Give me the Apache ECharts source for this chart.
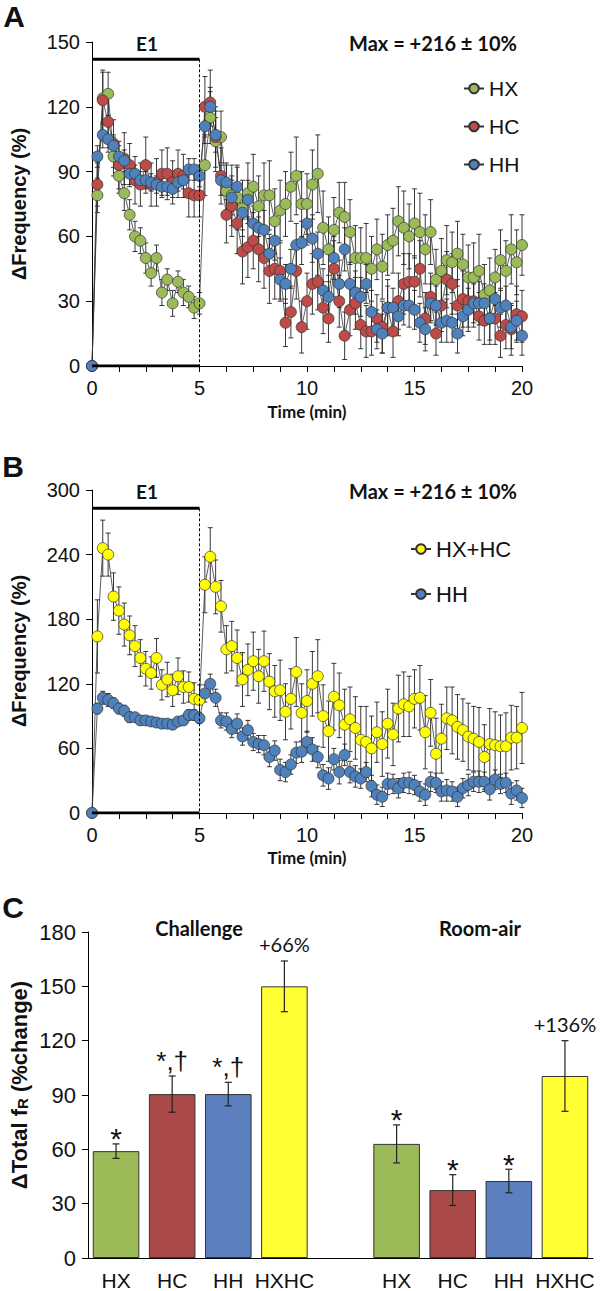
<!DOCTYPE html>
<html><head><meta charset="utf-8">
<script src="https://cdn.jsdelivr.net/npm/echarts@6/dist/echarts.min.js"></script>
<style>html,body{margin:0;padding:0;background:#fff}#c{width:600px;height:1291px}</style>
</head><body><div id="c"></div>
<script>
// ---------- DATA ----------
const times = [0,0.25,0.5,0.75,1,1.25,1.5,1.75,2,2.25,2.5,2.75,3,3.25,3.5,3.75,4,4.25,4.5,4.75,5,5.25,5.5,5.75,6,6.25,6.5,6.75,7,7.25,7.5,7.75,8,8.25,8.5,8.75,9,9.25,9.5,9.75,10,10.25,10.5,10.75,11,11.25,11.5,11.75,12,12.25,12.5,12.75,13,13.25,13.5,13.75,14,14.25,14.5,14.75,15,15.25,15.5,15.75,16,16.25,16.5,16.75,17,17.25,17.5,17.75,18,18.25,18.5,18.75,19,19.25,19.5,19.75,20];

const hx = [0, 79,124,126,97, 88,80,70,60, 58,50,43,50, 34,40,29,39, 34,32,27,29, 93,115,104,106, 81,79,78,73, 80,83,74,79, 79,67,72,75, 83,88,75,75, 84,89,64,54, 63,71,69,62, 50,50,50,45, 54,46,56,58, 67,64,60,66, 62,54,62,40, 44,49,48,52, 47,41,41,44, 33,35,41,49, 44,54,48,56];
const hxErr = [0, 8,12,10,9, 8,8,7,7, 6,7,6,6, 6,5,6,5, 6,5,5,5, 14,12,14,12, 13,14,15,13, 14,15,14,15, 16,15,14,15, 16,18,15,14, 16,18,17,15, 15,14,16,15, 15,14,16,15, 14,15,14,15, 16,17,15,16, 18,16,15,14, 15,16,14,15, 14,15,16,17, 14,15,13,14, 14,16,15,14];

const hc = [0, 84,123,113,103, 93,96,93,86, 84,93,84,85, 89,89,85,89, 88,80,79,79, 120,122,106,88, 70,74,66,53, 55,58,54,50, 44,45,44,20, 25,44,18,30, 38,39,27,22, 45,30,14,26, 29,19,16,16, 22,18,27,16, 30,38,39,39, 45,22,32,15, 28,40,38,28, 31,30,30,23, 21,22,22,14, 19,17,24,23];
const hcErr = [0, 10,14,12,11, 11,12,10,11, 10,13,10,11, 11,12,10,11, 10,11,10,10, 14,15,14,13, 13,14,14,15, 14,13,15,14, 15,14,13,11, 12,13,12,13, 14,13,12,11, 13,12,11,12, 12,11,12,11, 11,12,13,12, 13,14,13,12, 13,12,11,10, 12,13,14,12, 13,12,12,11, 11,12,12,10, 11,12,13,12];

const hh = [0, 97,107,105,102, 97,95,89,89, 86,86,85,84, 83,83,82,85, 86,91,91,88, 111,120,107,86, 85,78,83,71, 77,66,64,63, 52,58,40,38, 45,56,57,66, 59,52,35,32, 50,38,54,38, 34,32,38,25, 17,15,27,27, 23,28,28,26, 20,17,29,28, 20,21,20,15, 23,26,29,29, 29,22,31,27, 28,18,21,14];
const hhErr = [0, 5,6,6,5, 5,5,5,4, 4,4,4,4, 4,4,4,4, 4,5,5,5, 8,9,8,7, 8,8,9,8, 9,8,8,9, 9,9,10,9, 9,10,10,10, 11,10,10,10, 10,11,10,10, 10,9,9,10, 9,9,10,9, 9,9,10,9, 9,10,9,9, 9,10,9,9, 9,10,9,10, 9,10,9,9, 9,10,9,9];

const hxhc = [0, 164,246,240,201, 188,175,165,155, 144,134,130,144, 119,124,114,127, 117,117,106,105, 212,238,210,192, 152,155,144,124, 133,141,127,141, 122,113,114,94, 106,131,93,104, 120,127,90,76, 108,100,82,87, 79,68,66,60, 75,64,83,73, 97,101,99,106, 107,75,93,55, 69,88,86,80, 77,71,69,66, 52,64,63,62, 62,70,70,79];
const hxhcErr = [0, 34,26,20,22, 22,20,18,19, 17,16,15,18, 14,16,15,17, 15,14,15,14, 26,27,25,24, 22,23,26,25, 24,27,25,28, 26,24,28,26, 28,32,27,29, 30,34,29,28, 31,30,33,30, 29,31,33,30, 28,30,32,29, 31,30,28,27, 30,34,31,33, 32,29,31,30, 29,31,30,32, 30,33,31,29, 31,30,29,33];

const e1Start = 0, e1End = 5, e1LevelA = 142, e1LevelB = 283;

const barCategories = ['HX','HC','HH','HXHC'];
const challengeVals = [59, 90.5, 90.5, 150];
const challengeErr = [4, 10, 6.5, 14];
const challengeMarks = ['*', '*,\u2020', '*,\u2020', '+66%'];
const roomAirVals = [63, 37.5, 42.5, 100.5];
const roomAirErr = [10.5, 8.5, 6.5, 19.5];
const roomAirMarks = ['*', '*', '*', '+136%'];

// ---------- STYLE ----------
const COL = {HX:'#9bbb59', HC:'#be4b48', HH:'#4f81bd', HXHC:'#ffff00'};
const BARCOL = {HX:'#9bbb59', HC:'#a94a48', HH:'#5b7fbf', HXHC:'#ffff33'};
const SANS = '"Liberation Sans", Arial, sans-serif';
const CAL = 'Lato, "Open Sans", sans-serif';

const chart = echarts.init(document.getElementById('c'), null, {renderer:'svg'});

function errRender(params, api){
  const x = api.value(0), v = api.value(1), e = api.value(2);
  if (!e) return null;
  const t = api.coord([x, v + e]), b = api.coord([x, v - e]);
  const w = 2.5, st = {stroke:'#222', lineWidth:0.9};
  return {type:'group', children:[
    {type:'line', shape:{x1:t[0], y1:t[1], x2:b[0], y2:b[1]}, style:st},
    {type:'line', shape:{x1:t[0]-w, y1:t[1], x2:t[0]+w, y2:t[1]}, style:st},
    {type:'line', shape:{x1:b[0]-w, y1:b[1], x2:b[0]+w, y2:b[1]}, style:st}
  ]};
}

function errSeries(name, vals, errs, gi){
  return {type:'custom', name: name + ' err', xAxisIndex:gi, yAxisIndex:gi, renderItem:errRender, clip:false, z:2,
    encode:{x:0, y:1}, silent:true,
    data: times.map((t,i)=>[t, vals[i], errs[i]])};
}
function lineSeries(name, vals, color, gi){
  return {type:'line', name:name, xAxisIndex:gi, yAxisIndex:gi, z:3,
    data: times.map((t,i)=>[t, vals[i]]),
    symbol:'circle', symbolSize:11, showSymbol:true,
    lineStyle:{color:'#333', width:0.8},
    itemStyle:{color:color, borderColor:'#333', borderWidth:0.7},
    emphasis:{disabled:true}};
}
function e1Series(gi, level){
  return [
    {type:'line', xAxisIndex:gi, yAxisIndex:gi, data:[[e1Start, level],[e1End, level]], symbol:'none', lineStyle:{color:'#000', width:3}, z:4, silent:true},
    {type:'line', xAxisIndex:gi, yAxisIndex:gi, data:[[e1End, level],[e1End, 0]], symbol:'none', lineStyle:{color:'#000', width:1, type:[3,2]}, z:4, silent:true},
    {type:'line', xAxisIndex:gi, yAxisIndex:gi, data:[[e1Start, 0],[e1End, 0]], symbol:'none', lineStyle:{color:'#000', width:3}, z:4, silent:true}
  ];
}

function timeAxis(gi){
  return {type:'value', gridIndex:gi, min:0, max:20, interval:1.25,
    axisLine:{lineStyle:{color:'#000', width:1}},
    axisTick:{show:true, length:6, lineStyle:{color:'#000'}},
    axisLabel:{formatter:v => (v % 5 === 0 ? String(v) : ''), fontSize:20, fontFamily:SANS, color:'#111', margin:12},
    splitLine:{show:false}};
}
function valAxis(gi, max, interval){
  return {type:'value', gridIndex:gi, min:0, max:max, interval:interval,
    axisLine:{show:true, lineStyle:{color:'#000', width:1}},
    axisTick:{show:true, length:6, lineStyle:{color:'#000'}},
    axisLabel:{fontSize:gi===2?22:20, fontFamily:SANS, color:'#111', margin:12},
    splitLine:{show:false}};
}

// bar chart slots
const slotLabels = [...barCategories, '', ...barCategories];
const barData = [];
challengeVals.forEach((v,i)=>barData.push({value:v, itemStyle:{color:BARCOL[barCategories[i]]}}));
barData.push('-');
roomAirVals.forEach((v,i)=>barData.push({value:v, itemStyle:{color:BARCOL[barCategories[i]]}}));
const barErrData = [];
challengeVals.forEach((v,i)=>barErrData.push([i, v, challengeErr[i], challengeMarks[i]]));
roomAirVals.forEach((v,i)=>barErrData.push([i+5, v, roomAirErr[i], roomAirMarks[i]]));

function markText(mark, x, yTop){
  const base = {text:mark, x:0, y:0, fill:'#111', align:'center', textAlign:'center'};
  if (mark.charAt(0) === '+') {
    return {type:'text', x:x, y:yTop - 7, style:Object.assign(base, {verticalAlign:'bottom', textVerticalAlign:'bottom', font:'20px ' + CAL})};
  }
  if (mark.indexOf('\u2020') >= 0) {
    return {type:'text', x:x, y:yTop - 2, style:Object.assign(base, {verticalAlign:'bottom', textVerticalAlign:'bottom', font:'26px ' + SANS})};
  }
  return {type:'text', x:x, y:yTop - 5, style:Object.assign(base, {verticalAlign:'middle', textVerticalAlign:'middle', font:'30px ' + SANS})};
}

function barErrRender(params, api){
  const idx = params.dataIndex;
  const d = barErrData[idx];
  const t = api.coord([d[0], d[1]+d[2]]), b = api.coord([d[0], d[1]-d[2]]);
  const w = 3.5, st = {stroke:'#222', lineWidth:1.2};
  return {type:'group', children:[
    {type:'line', shape:{x1:t[0], y1:t[1], x2:b[0], y2:b[1]}, style:st},
    {type:'line', shape:{x1:t[0]-w, y1:t[1], x2:t[0]+w, y2:t[1]}, style:st},
    {type:'line', shape:{x1:b[0]-w, y1:b[1], x2:b[0]+w, y2:b[1]}, style:st},
    markText(d[3], t[0], t[1])
  ]};
}

function gtext(text, x, y, font, opts){
  return Object.assign({type:'text', x:x, y:y, silent:true,
    style:{text:text, x:0, y:0, font:font, fill:'#111', align:'center', verticalAlign:'middle', textAlign:'center', textVerticalAlign:'middle'}}, opts||{});
}

const option = {
  animation:false,
  backgroundColor:'#fff',
  grid:[
    {left:92, top:42, width:430, height:324},
    {left:92, top:490, width:430, height:323},
    {left:88, top:932, width:505, height:327}
  ],
  xAxis:[timeAxis(0), timeAxis(1),
    {type:'category', gridIndex:2, data:slotLabels,
     axisLine:{lineStyle:{color:'#000', width:1}}, axisTick:{show:false},
     axisLabel:{fontSize:21, fontFamily:SANS, color:'#111', margin:12, interval:0}}],
  yAxis:[valAxis(0,150,30), valAxis(1,300,60), valAxis(2,180,30)],
  legend:[
    {data:['HX','HC','HH'], orient:'vertical', left:458, top:73, itemGap:17, itemWidth:20, itemHeight:12,
     textStyle:{fontSize:21, fontFamily:SANS, color:'#111'}, selectedMode:false},
    {data:['HX+HC','HH'], orient:'vertical', left:405, top:533, itemGap:23, itemWidth:20, itemHeight:12,
     textStyle:{fontSize:22, fontFamily:SANS, color:'#111'}, selectedMode:false}
  ],
  graphic:[
    gtext('A', 14, 16, 'bold 30px ' + SANS),
    gtext('B', 13, 466, 'bold 30px ' + SANS),
    gtext('C', 13, 907, 'bold 30px ' + SANS),
    gtext('E1', 147, 43, 'bold 19px ' + CAL),
    gtext('E1', 147, 491, 'bold 19px ' + CAL),
    gtext('Max = +216 \u00b1 10%', 433, 43, 'bold 20px ' + CAL),
    gtext('Max = +216 \u00b1 10%', 433, 491, 'bold 20px ' + CAL),
    gtext('Time (min)', 307, 411, 'bold 17px ' + CAL),
    gtext('Time (min)', 307, 857, 'bold 17px ' + CAL),
    gtext('\u0394Frequency (%)', 19, 204, 'bold 20px ' + SANS, {rotation:Math.PI/2}),
    gtext('\u0394Frequency (%)', 19, 651, 'bold 20px ' + SANS, {rotation:Math.PI/2}),
    gtext('Challenge', 199, 928, 'bold 20px ' + CAL),
    gtext('Room-air', 480, 928, 'bold 20px ' + CAL),
    {type:'text', x:19, y:1085, rotation:Math.PI/2, silent:true,
     style:{text:'{a|\u0394Total f}{b|R}{a| (%change)}', x:0, y:0, align:'center', verticalAlign:'middle', textAlign:'center', textVerticalAlign:'middle',
       fill:'#111', rich:{a:{fontSize:22, fontWeight:'bold', fontFamily:SANS, fill:'#111', color:'#111'},
                           b:{fontSize:15, fontWeight:'bold', fontFamily:SANS, fill:'#111', color:'#111', verticalAlign:'bottom'}}}}
  ],
  series:[
    errSeries('HX', hx, hxErr, 0), errSeries('HC', hc, hcErr, 0), errSeries('HH', hh, hhErr, 0),
    lineSeries('HX', hx, COL.HX, 0), lineSeries('HC', hc, COL.HC, 0), lineSeries('HH', hh, COL.HH, 0),
    ...e1Series(0, e1LevelA),
    errSeries('HX+HC', hxhc, hxhcErr, 1), errSeries('HH2', hh, hhErr, 1),
    lineSeries('HX+HC', hxhc, COL.HXHC, 1), lineSeries('HH', hh, COL.HH, 1),
    ...e1Series(1, e1LevelB),
    {type:'bar', xAxisIndex:2, yAxisIndex:2, data:barData, barCategoryGap:'17%',
     itemStyle:{borderColor:'#333', borderWidth:1}, silent:true, z:2},
    {type:'custom', xAxisIndex:2, yAxisIndex:2, renderItem:barErrRender, clip:false, z:5, silent:true,
     data:barErrData.map(d=>[d[0], d[1], d[2]]), encode:{x:0, y:1}}
  ]
};
chart.setOption(option);
</script></body></html>
